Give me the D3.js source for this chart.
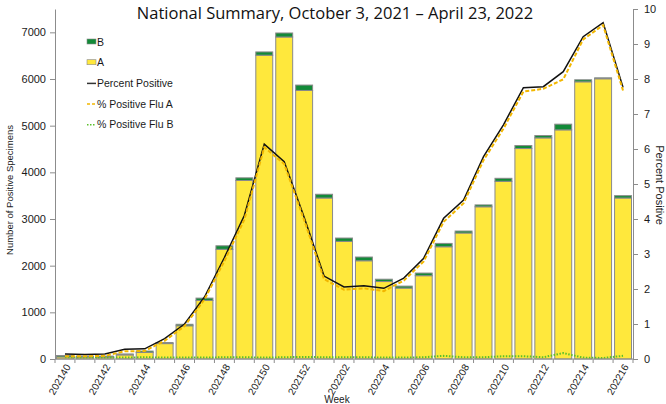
<!DOCTYPE html>
<html>
<head>
<meta charset="utf-8">
<script src="https://cdn.jsdelivr.net/npm/d3@7"></script>
<style>
  body { margin: 0; background: #fff; }
  svg { display: block; }
  svg text { font-family: "Liberation Sans", Arial, sans-serif; }
</style>
</head>
<body>
<div id="chart"></div>
<script>
// weeks, 202140 .. 202216
const weeks = ["202140","202141","202142","202143","202144","202145","202146","202147","202148","202149",
  "202150","202151","202152","202201","202202","202203","202204","202205","202206","202207",
  "202208","202209","202210","202211","202212","202213","202214","202215","202216"];

// number of positive specimens
const fluA = [45, 42, 42, 88, 140, 330, 712, 1255, 2350, 3825, 6510, 6900, 5755, 3450, 2520, 2105, 1660, 1520,
  1785, 2405, 2700, 3262, 3808, 4510, 4738, 4910, 5940, 6005, 3450];
const fluB = [30, 20, 20, 20, 30, 22, 32, 50, 76, 57, 70, 86, 115, 80, 72, 80, 50, 42, 57, 72, 42, 40, 64, 64,
  50, 122, 43, 20, 50];

// percent positive
const pctTotal = [0.14, 0.13, 0.14, 0.28, 0.29, 0.58, 1.0, 1.77, 2.9, 4.1, 6.14, 5.64, 4.05, 2.37, 2.06, 2.09,
  2.02, 2.31, 2.88, 4.02, 4.54, 5.78, 6.69, 7.75, 7.78, 8.21, 9.21, 9.61, 7.76];
const pctA = [0.08, 0.08, 0.09, 0.22, 0.23, 0.52, 0.94, 1.70, 2.80, 3.98, 6.05, 5.57, 3.97, 2.28, 1.98, 2.02,
  1.94, 2.24, 2.79, 3.92, 4.45, 5.68, 6.58, 7.64, 7.72, 7.99, 9.13, 9.54, 7.67];
const pctB = [0.05, 0.04, 0.04, 0.04, 0.05, 0.04, 0.04, 0.04, 0.05, 0.05, 0.04, 0.05, 0.06, 0.05, 0.05, 0.05,
  0.04, 0.04, 0.05, 0.09, 0.05, 0.05, 0.08, 0.08, 0.05, 0.17, 0.04, 0.03, 0.09];

const countTicks = [0, 1000, 2000, 3000, 4000, 5000, 6000, 7000];
const pctTicks = [0, 1, 2, 3, 4, 5, 6, 7, 8, 9, 10];

const W = 666, H = 404;
const margin = { top: 9, right: 33, bottom: 45, left: 55 };
const axisCol = "#8c8c8c";
const textCol = "#1a1a1a";
const yellow = "#ffe83c", green = "#128a38";

const svg = d3.select("#chart").append("svg")
  .attr("width", W)
  .attr("height", H);

const x = d3.scaleBand()
  .domain(weeks)
  .range([margin.left, W - margin.right])
  .paddingInner(0.15)
  .paddingOuter(0.075);

const y = d3.scaleLinear()
  .domain([0, 7500])
  .range([H - margin.bottom, margin.top]);

const y2 = d3.scaleLinear()
  .domain([0, 10])
  .range([H - margin.bottom, margin.top]);

const rows = weeks.map((w, i) => ({ week: w, A: fluA[i], B: fluB[i] }));
const stacked = d3.stack().keys(["A", "B"])(rows);
const fills = { A: yellow, B: green };

// bars
svg.append("g")
  .selectAll("g")
  .data(stacked)
  .join("g")
  .attr("fill", d => fills[d.key])
  .selectAll("rect")
  .data(d => d)
  .join("rect")
  .attr("x", d => x(d.data.week))
  .attr("y", d => y(d[1]))
  .attr("width", x.bandwidth())
  .attr("height", d => y(d[0]) - y(d[1]))
  .attr("stroke", "#8a8a8a")
  .attr("stroke-width", 1);

// lines
const cx = w => x(w) + x.bandwidth() / 2;
const lineOf = vals => d3.line().x((d, i) => cx(weeks[i])).y(d => y2(d))(vals);

svg.append("path")
  .attr("d", lineOf(pctB))
  .attr("fill", "none")
  .attr("stroke", "#5cbf2a")
  .attr("stroke-width", 2)
  .attr("stroke-dasharray", "1.5,1.5");

svg.append("path")
  .attr("d", lineOf(pctTotal))
  .attr("fill", "none")
  .attr("stroke", "#111")
  .attr("stroke-width", 1.5);

svg.append("path")
  .attr("d", lineOf(pctA))
  .attr("fill", "none")
  .attr("stroke", "#f2b700")
  .attr("stroke-width", 2)
  .attr("stroke-dasharray", "4,2");

// axes
const xAxis = svg.append("g")
  .attr("transform", `translate(0,${H - margin.bottom})`);
xAxis.append("line")
  .attr("x1", margin.left).attr("x2", W - margin.right)
  .attr("stroke", axisCol);
xAxis.selectAll("line.tk")
  .data(weeks.concat(["end"]))
  .join("line")
  .attr("class", "tk")
  .attr("x1", (d, i) => i < weeks.length ? x(d) - x.step() * x.paddingInner() / 2 : W - margin.right)
  .attr("x2", (d, i) => i < weeks.length ? x(d) - x.step() * x.paddingInner() / 2 : W - margin.right)
  .attr("y1", 0).attr("y2", 4)
  .attr("stroke", axisCol);
xAxis.selectAll("text")
  .data(weeks.filter((d, i) => i % 2 === 0))
  .join("text")
  .attr("transform", d => `translate(${cx(d) + 3},${6}) rotate(-60)`)
  .attr("text-anchor", "end")
  .attr("dy", "0.35em")
  .attr("font-size", 10)
  .attr("fill", textCol)
  .text(d => d);

const yAxis = svg.append("g")
  .attr("transform", `translate(${margin.left},0)`)
  .call(d3.axisLeft(y).tickValues(countTicks).tickFormat(d3.format("d"))
    .tickSize(5).tickSizeOuter(0).tickPadding(4));
yAxis.select(".domain").attr("stroke", axisCol);
yAxis.selectAll(".tick line").attr("stroke", axisCol);
yAxis.selectAll(".tick text").attr("font-size", 11).attr("fill", textCol);

const y2Axis = svg.append("g")
  .attr("transform", `translate(${W - margin.right},0)`)
  .call(d3.axisRight(y2).tickValues(pctTicks).tickSize(5).tickSizeOuter(0).tickPadding(6));
y2Axis.select(".domain").attr("stroke", axisCol);
y2Axis.selectAll(".tick line").attr("stroke", axisCol);
y2Axis.selectAll(".tick text").attr("font-size", 11).attr("fill", textCol);

// axis titles
svg.append("text")
  .attr("transform", "translate(13,190) rotate(-90)")
  .attr("text-anchor", "middle")
  .attr("font-size", 9.5)
  .attr("fill", textCol)
  .text("Number of Positive Specimens");

svg.append("text")
  .attr("transform", "translate(656,185) rotate(90)")
  .attr("text-anchor", "middle")
  .attr("font-size", 11)
  .attr("fill", textCol)
  .text("Percent Positive");

svg.append("text")
  .attr("x", 337)
  .attr("y", 403)
  .attr("text-anchor", "middle")
  .attr("font-size", 10)
  .attr("fill", textCol)
  .text("Week");

// title
svg.append("text")
  .attr("x", 335)
  .attr("y", 19)
  .attr("text-anchor", "middle")
  .style("font-family", "'Open Sans', sans-serif")
  .attr("font-size", 16.5)
  .attr("fill", "#111")
  .text("National Summary, October 3, 2021 \u2013 April 23, 2022");

// legend
const legendItems = [
  { label: "B", type: "box", color: green },
  { label: "A", type: "box", color: yellow },
  { label: "Percent Positive", type: "line", color: "#333", dash: null },
  { label: "% Positive Flu A", type: "line", color: "#f2b700", dash: "3,2" },
  { label: "% Positive Flu B", type: "line", color: "#5cbf2a", dash: "1.5,1.5" }
];
const legend = svg.append("g").attr("transform", "translate(87,42)");
const li = legend.selectAll("g")
  .data(legendItems)
  .join("g")
  .attr("transform", (d, i) => `translate(0,${i * 20.7})`);
li.filter(d => d.type === "box").append("rect")
  .attr("x", 0).attr("y", -3)
  .attr("width", 9).attr("height", 5)
  .attr("fill", d => d.color)
  .attr("stroke", "#8a8a8a")
  .attr("stroke-width", 0.6);
li.filter(d => d.type === "line").append("line")
  .attr("x1", 0).attr("x2", 9)
  .attr("y1", 0).attr("y2", 0)
  .attr("stroke", d => d.color)
  .attr("stroke-width", 1.5)
  .attr("stroke-dasharray", d => d.dash);
li.append("text")
  .attr("x", 10)
  .attr("y", 0)
  .attr("dy", "0.35em")
  .attr("font-size", 10.5)
  .attr("fill", textCol)
  .text(d => d.label);
</script>
</body>
</html>
